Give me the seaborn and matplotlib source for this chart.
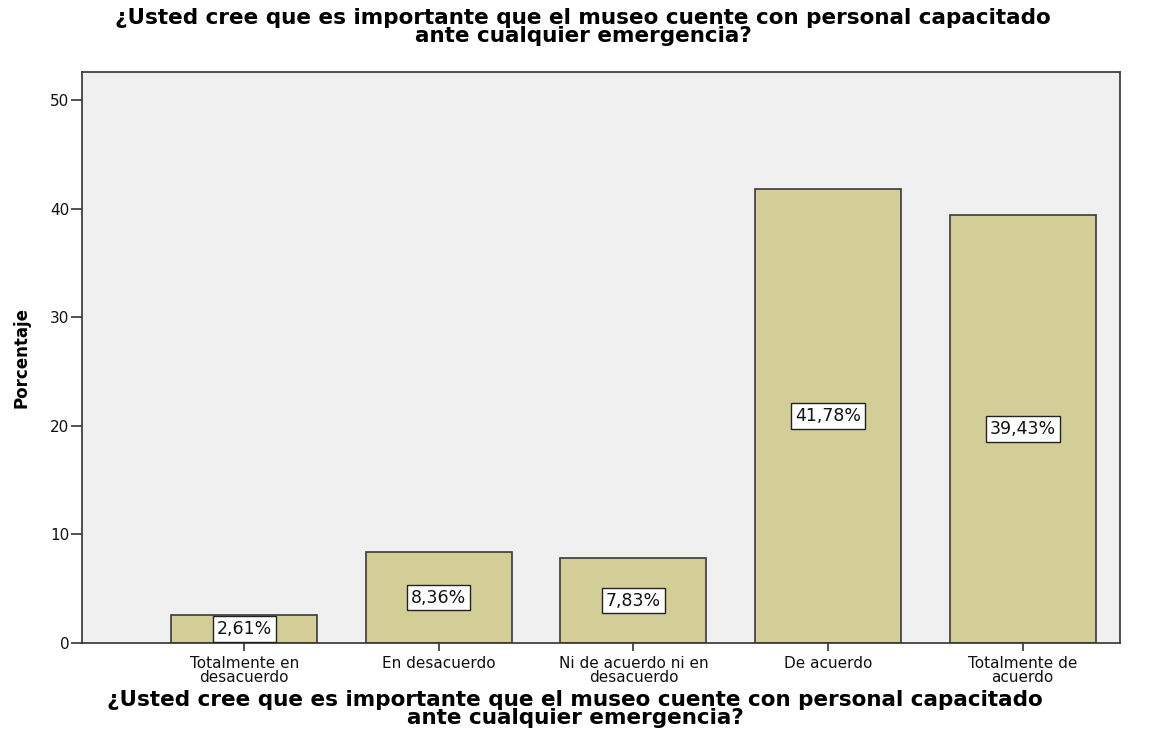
import numpy as np
import pandas as pd
import seaborn as sns
import matplotlib.pyplot as plt

# Data
categorias = ["Totalmente en\ndesacuerdo", "En desacuerdo", "Ni de acuerdo ni en\ndesacuerdo",
              "De acuerdo", "Totalmente de\nacuerdo"]
porcentajes = [2.61, 8.36, 7.83, 41.78, 39.43]
etiquetas = ["2,61%", "8,36%", "7,83%", "41,78%", "39,43%"]

pregunta = ("¿Usted cree que es importante que el museo cuente con personal capacitado\n"
            "ante cualquier emergencia?")

df = pd.DataFrame({"categoria": categorias, "porcentaje": porcentajes})

sns.set_style("white")
plt.rcParams["font.family"] = ["DejaVu Sans"]
plt.rcParams["text.color"] = "black"

fig = plt.figure(figsize=(11.73, 7.54), dpi=100)
ax = fig.add_axes([82 / 1173, 1 - 643 / 754, (1120 - 82) / 1173, (643 - 72) / 754])
ax.set_facecolor("#f0f0f0")

sns.barplot(data=df, x="categoria", y="porcentaje", color="#d3ce97",
            edgecolor="#3a3a3a", linewidth=1.2, width=0.75, saturation=1, ax=ax)

# Percentage labels in white boxes, centred in each bar
for i, (v, txt) in enumerate(zip(porcentajes, etiquetas)):
    ax.text(i, max(v / 2, 1.1), txt, ha="center", va="center", fontsize=12.5,
            color="#111111",
            bbox=dict(boxstyle="square,pad=0.22", facecolor="white", edgecolor="#222222", linewidth=1))

ax.set_xlim(-0.833, 4.5)
ax.set_ylim(0, 52.6)
ax.set_yticks([0, 10, 20, 30, 40, 50])
ax.tick_params(axis="y", length=8, width=1.2, color="#333333", labelsize=11, pad=1, left=True,
               labelcolor="#111111")
ax.tick_params(axis="x", length=6, width=1.2, color="#333333", labelsize=11, pad=3, bottom=True,
               labelcolor="#111111")
for lab in ax.get_xticklabels():
    lab.set_linespacing(1.0)
for s in ax.spines.values():
    s.set_color("#333333")
    s.set_linewidth(1.2)

ax.set_ylabel("Porcentaje", fontsize=12, fontweight="bold", labelpad=14,
              family="Liberation Sans Narrow", color="black")
ax.set_xlabel(pregunta, fontsize=15.5, fontweight="bold", labelpad=3, linespacing=0.9, color="black")
ax.xaxis.label.set_x(0.475)

fig.suptitle(pregunta, fontsize=15.5, fontweight="bold", x=0.497, y=0.99, linespacing=0.9,
             color="black")

plt.savefig("out.png", dpi=100)
